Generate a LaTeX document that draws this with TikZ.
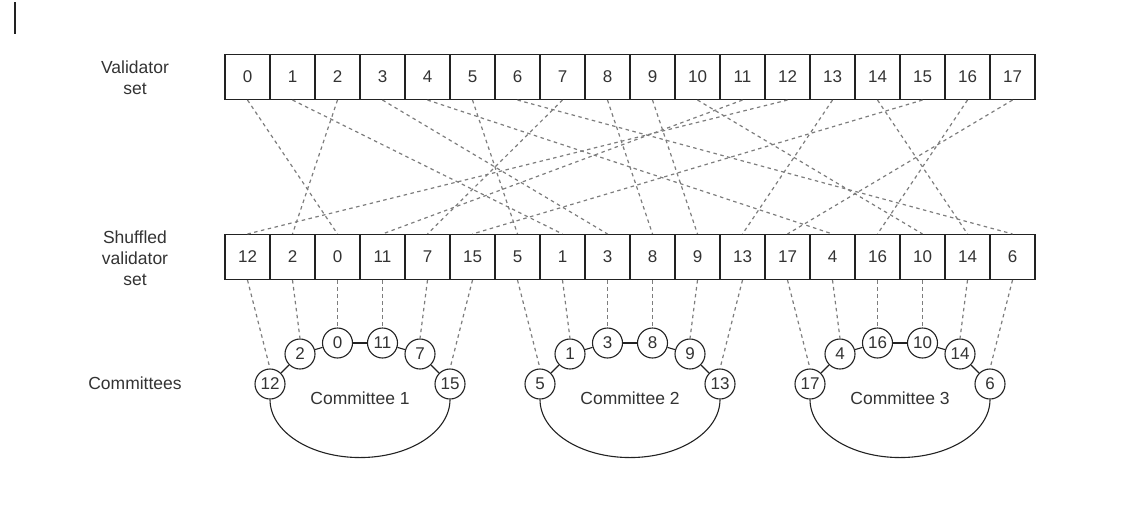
\documentclass[tikz,border=0pt]{standalone}
\usepackage{fontspec}
\setmainfont{Liberation Sans}
\definecolor{linegray}{RGB}{125,125,125}
\definecolor{boxline}{RGB}{34,34,34}
\definecolor{txt}{RGB}{51,51,51}
\tikzset{
  cell/.style={draw=boxline, line width=1.1pt, minimum width=45pt, minimum height=45pt, inner sep=0pt, text=txt, font=\fontsize{17}{20}\selectfont},
  member/.style={circle, draw=boxline, line width=1.1pt, fill=white, minimum size=30pt, inner sep=0pt, text=txt, font=\fontsize{17}{20}\selectfont},
  shuffle/.style={draw=linegray, line width=1.2pt, dash pattern=on 3.5pt off 3.5pt},
  rowlabel/.style={align=center, text=txt, font=\fontsize{17.5}{21}\selectfont}
}
\begin{document}
\begin{tikzpicture}[x=1pt, y=1pt]
    \useasboundingbox (0,0) rectangle (1137,-515);
    \fill[boxline] (14.4,-2) rectangle (15.7,-34);

    % Feliratok
    \node[rowlabel] (lv) at (135,-78) {Validator\\set};
    \node[rowlabel] (ls) at (135,-258) {Shuffled\\validator\\set};
    \node[rowlabel] (lc) at (135,-383) {Committees};

    % Validátorok
    \foreach \i in {0,...,17}
        \node[cell] (v\i) at ({247.5+45*\i},-77) {\i};

    % Megkevert validátorok
    \foreach \v [count=\k from 0] in {12,2,0,11,7,15,5,1,3,8,9,13,17,4,16,10,14,6}
        \node[cell] (s\v) at ({247.5+45*\k},-257) {\v};

    % Bizottságok
    \foreach \a/\b/\c/\d/\e/\f [count=\k] in {12/2/0/11/7/15, 5/1/3/8/9/13, 17/4/16/10/14/6} {
        \begin{scope}[xshift={(\k-1)*270pt}]
            \node[member] (c\a) at (270,-384) {\a};
            \node[member] (c\b) at (300,-354) {\b};
            \node[member] (c\c) at (337.5,-343) {\c};
            \node[member] (c\d) at (382.5,-343) {\d};
            \node[member] (c\e) at (420,-354) {\e};
            \node[member] (c\f) at (450,-384) {\f};
            \draw[boxline, line width=1.1pt] (c\a) -- (c\b);
            \draw[boxline, line width=1.1pt] (c\b) -- (c\c);
            \draw[boxline, line width=1.1pt] (c\c) -- (c\d);
            \draw[boxline, line width=1.1pt] (c\d) -- (c\e);
            \draw[boxline, line width=1.1pt] (c\e) -- (c\f);
            \draw[boxline, line width=1.1pt] (c\a.south) arc[start angle=180, end angle=360, x radius=90, y radius=58];
            \node[rowlabel] (t\k) at (360,-398) {Committee \k};
        \end{scope}
    }

    % Szaggatott vonalak
    \foreach \v in {0,...,17} {
        \draw[shuffle] (v\v.south) -- (s\v.north);
        \draw[shuffle] (s\v.south) -- (c\v.north);
    }
\end{tikzpicture}
\end{document}
